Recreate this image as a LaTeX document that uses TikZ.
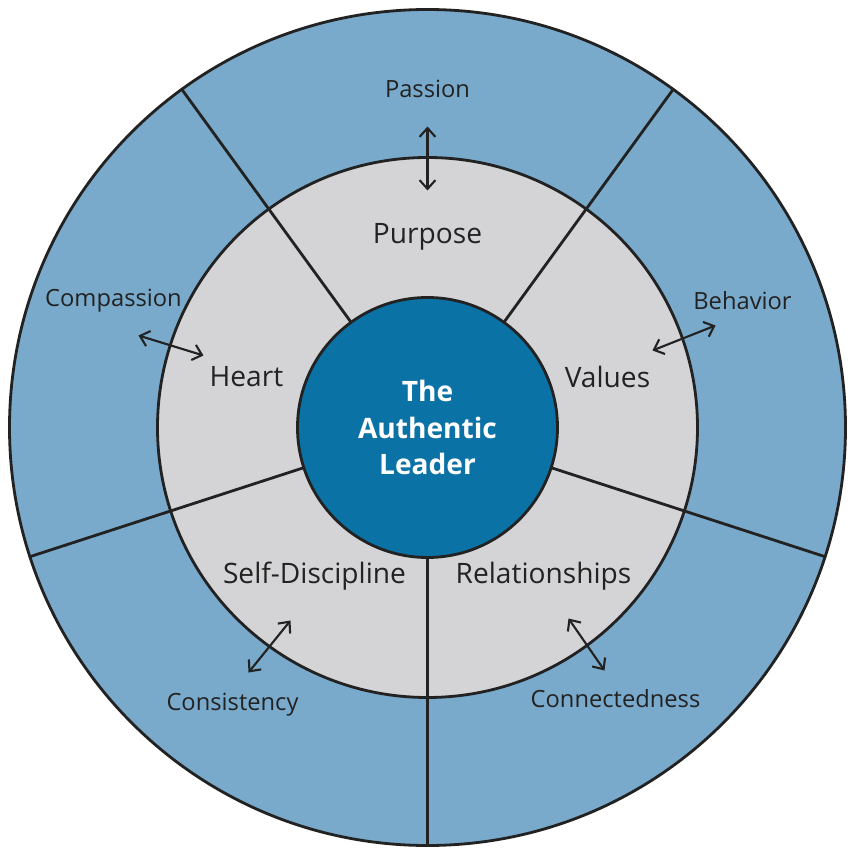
\documentclass[tikz,border=0pt]{standalone}
\usepackage{fontspec}
\setmainfont{Open Sans}
\usetikzlibrary{arrows.meta}
\definecolor{outerblue}{HTML}{7AAACB}
\definecolor{ringgrey}{HTML}{D4D4D6}
\definecolor{coreblue}{HTML}{0B72A6}
\definecolor{edgedark}{HTML}{222222}
\begin{document}
\begin{tikzpicture}[x=0.02cm,y=0.02cm,
    inner/.style={font=\fontsize{16}{18}\selectfont, text=edgedark},
    outer/.style={font=\fontsize{13.5}{15}\selectfont, text=edgedark},
    link/.style={very thick, edgedark, {Straight Barb[length=5pt,width=9pt]}-{Straight Barb[length=5pt,width=9pt]}}]
\useasboundingbox (-427.5,-427.5) rectangle (427.5,427.5);

    \draw [fill=outerblue, draw=edgedark, line width=1.6pt] (0,0) circle (418);
    \draw [fill=ringgrey, draw=edgedark, line width=1.6pt] (0,0) circle (270);
    \foreach \a in {54,126,198,270,342}
        \draw [edgedark, line width=1.6pt] (\a:130) -- (\a:418);
    \draw [fill=coreblue, draw=edgedark, line width=1.6pt] (0,0) circle (130);

    \node [align=center, text=white, font=\fontsize{16}{21}\selectfont\bfseries] (core) at (0,0) {The\\Authentic\\Leader};

    \node [inner] (purpose) at (0,191) {Purpose};
    \node [inner] (values) at (180,51) {Values};
    \node [inner] (relation) at (116,-149) {Relationships};
    \node [inner] (discipline) at (-113,-149) {Self-Discipline};
    \node [inner] (heart) at (-181,51) {Heart};

    \node [outer] (passion) at (0,339) {Passion};
    \node [outer] (behavior) at (315,127) {Behavior};
    \node [outer] (connect) at (188,-271) {Connectedness};
    \node [outer] (consist) at (-195,-277) {Consistency};
    \node [outer] (compass) at (-314,127) {Compassion};

    \coordinate (p1) at (0,301);   \coordinate (p2) at (0,237);
    \coordinate (b1) at (288,102); \coordinate (b2) at (225,77);
    \coordinate (c1) at (141,-191); \coordinate (c2) at (177,-243);
    \coordinate (s1) at (-137,-193); \coordinate (s2) at (-179,-245);
    \coordinate (h1) at (-289,92); \coordinate (h2) at (-224,72);

    \draw [link] (p1) -- (p2);
    \draw [link] (b1) -- (b2);
    \draw [link] (c1) -- (c2);
    \draw [link] (s1) -- (s2);
    \draw [link] (h1) -- (h2);

\end{tikzpicture}
\end{document}
